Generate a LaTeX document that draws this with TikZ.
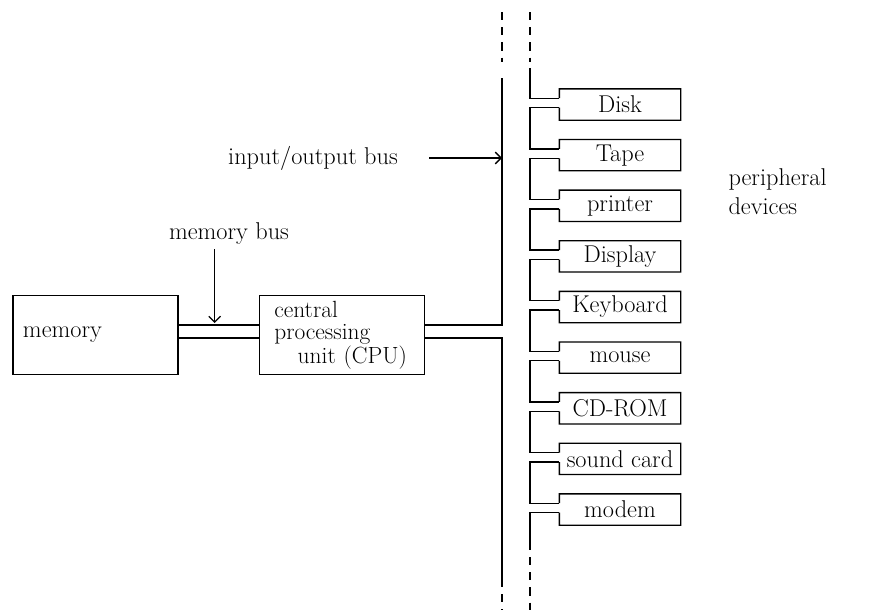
\documentclass[tikz,border=0pt]{standalone}
\usetikzlibrary{calc,positioning,arrows.meta}

\begin{document}
\begin{tikzpicture}[>={Straight Barb[length=5pt,width=10pt]}, x=0.03cm, y=-0.03cm, line width=1.1pt,
  unitbox/.style={draw, minimum width=4.95cm, minimum height=2.35cm, font=\huge},
  devbox/.style={minimum width=3.6cm, minimum height=0.9cm, inner sep=0pt, font=\huge},
  tag/.style={font=\huge, align=left},
  busdash/.style={dash pattern=on 7pt off 6pt}]
\useasboundingbox (0,0) rectangle (872,610);
% Memory and CPU
\node [unitbox, inner sep=0.3cm, text width=4.35cm, align=left] (memory) at (95.5,335) {memory};
\node [unitbox, inner xsep=0.45cm, inner ysep=0.05cm, text width=4.05cm, align=left,
  font=\fontsize{20}{19}\selectfont, right=2.4cm of memory] (cpu)
  {central\\processing\\\ \ \ unit (CPU)};
% Memory bus (double line)
\draw ($(memory.east)+(0,-10)$) -- ($(cpu.west)+(0,-10)$);
\draw ($(memory.east)+(0,3)$) -- ($(cpu.west)+(0,3)$);
\node [tag] (mbus) at (229,234) {memory bus};
\coordinate (mbtip) at ($(memory.east)!0.45!(cpu.west)+(0,-12)$);
\draw [->] (mbtip |- mbus.south) -- (mbtip);
% The two bus lines
\coordinate (busL) at (502,0);
\coordinate (busR) at (530,0);
\draw ($(cpu.east)+(0,-10)$) -| (busL |- 0,78);
\draw ($(cpu.east)+(0,3)$) -| (busL |- 0,587);
\draw [busdash] (502,12) -- (502,62);
\draw [busdash] (502,594) -- (502,610);
\node [tag] (iobus) at (313,158) {input/output bus};
\draw [->, shorten <=0.8cm] (iobus.east) -- (iobus.east -| busL);
% Peripheral devices
\node [devbox] (disk) at (620,104.5) {Disk};
\foreach \name/\lab [remember=\name as \prev (initially disk)] in {
  tape/Tape, printer/printer, display/Display, keyboard/Keyboard,
  mouse/mouse, cdrom/CD-ROM, sound/sound card, modem/modem} {
  \node [devbox, below=0.58cm of \prev] (\name) {\lab};
}
% Box outlines with an opening for the bus
\foreach \name in {disk,tape,printer,display,keyboard,mouse,cdrom,sound,modem} {
  \coordinate (\name-u) at ($(\name.north west)!0.3!(\name.south west)$);
  \coordinate (\name-l) at ($(\name.north west)!0.6!(\name.south west)$);
  \draw (\name-u) -- (\name.north west) -- (\name.north east)
    -- (\name.south east) -- (\name.south west) -- (\name-l);
}
\draw [busdash] (530,12) -- (530,62);
\draw (busR |- 0,68) |- (disk-u);
\foreach \a/\b in {disk/tape, tape/printer, printer/display, display/keyboard,
  keyboard/mouse, mouse/cdrom, cdrom/sound, sound/modem} {
  \draw (\a-l) -| (busR |- \b-u) -- (\b-u);
}
\draw (modem-l) -| (busR |- 0,550);
\draw [busdash] (530,557) -- (530,610);
\node [tag, anchor=west] (periph) at (724,192) {peripheral\\devices};
\end{tikzpicture}
\end{document}
